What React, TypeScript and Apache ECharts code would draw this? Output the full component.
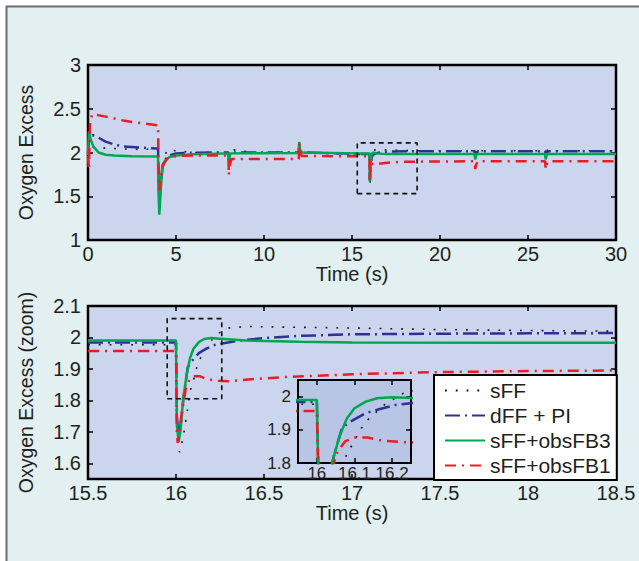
import React, { useEffect, useRef } from 'react';
import * as echarts from 'echarts';

type P = [number, number];

const NAMES = ['sFF', 'dFF + PI', 'sFF+obsFB3', 'sFF+obsFB1'];

// sFF (black dotted)
const sffEarly: P[] = [[0,1.98],[0.05,2.06],[0.3,2.06],[1,2.05],[2,2.04],[3.98,2.035],[4,1.8],[4.05,1.4],[4.15,1.62],[4.3,1.92],[4.5,2.03],[5,2.02],[6,2.0],[7.98,2.0],[8,1.9],[8.1,1.95],[8.3,2.03],[8.6,2.02],[9.5,2.0],[11.98,2.0],[12,2.1],[12.1,2.0],[15.5,1.977]];
const sffZoom: P[] = [[15.5,1.977],[16,1.977],[16.005,1.75],[16.02,1.635],[16.04,1.68],[16.06,1.75],[16.08,1.83],[16.1,1.865],[16.11,1.89],[16.13,1.925],[16.18,1.976],[16.23,2.01],[16.3,2.03],[16.4,2.035],[16.6,2.033],[17,2.03],[17.5,2.025],[18,2.022],[18.5,2.02]];
const sffLate: P[] = [[18.5,2.02],[21.98,2.02],[22,1.95],[22.1,2.03],[22.4,2.02],[25.98,2.02],[26,1.95],[26.1,2.03],[26.4,2.02],[30,2.02]];

// dFF + PI (blue dash-dot)
const dffEarly: P[] = [[0,1.98],[0.05,2.12],[0.25,2.2],[0.6,2.17],[1,2.125],[1.5,2.09],[2,2.07],[3,2.055],[3.98,2.045],[4,1.8],[4.05,1.45],[4.12,1.6],[4.25,1.86],[4.5,1.96],[5,1.99],[6,1.998],[7.98,2.0],[8,1.93],[8.05,1.97],[8.15,2.0],[11.98,2.0],[12,2.1],[12.05,2.03],[12.15,2.0],[15.5,1.984]];
const dffZoom: P[] = [[15.5,1.984],[16,1.984],[16.005,1.75],[16.015,1.68],[16.03,1.74],[16.045,1.82],[16.067,1.906],[16.09,1.925],[16.13,1.95],[16.165,1.962],[16.21,1.975],[16.25,1.98],[16.36,1.99],[16.5,1.998],[16.7,2.005],[17,2.01],[17.5,2.012],[18,2.013],[18.5,2.014]];
const dffLate: P[] = [[18.5,2.014],[21.98,2.015],[22,1.95],[22.05,1.99],[22.15,2.015],[25.98,2.015],[26,1.95],[26.05,1.99],[26.15,2.015],[30,2.015]];

// sFF+obsFB3 (green solid)
const ob3Early: P[] = [[0,1.97],[0.05,2.24],[0.15,2.15],[0.3,2.07],[0.6,2.0],[1,1.975],[1.5,1.965],[2.5,1.958],[3.98,1.953],[4,1.6],[4.05,1.29],[4.1,1.45],[4.2,1.8],[4.35,1.9],[4.6,1.945],[5,1.965],[6,1.98],[7.98,1.99],[8,1.91],[8.05,1.96],[8.1,1.99],[11.98,1.995],[12,2.12],[12.05,2.03],[12.1,2.0],[15.5,1.99]];
const ob3Zoom: P[] = [[15.5,1.99],[16,1.99],[16.005,1.72],[16.015,1.67],[16.025,1.7],[16.04,1.8],[16.06,1.88],[16.08,1.935],[16.1,1.965],[16.13,1.985],[16.16,1.995],[16.2,1.998],[16.25,1.996],[16.4,1.99],[16.7,1.986],[17,1.984],[18.5,1.983]];
const ob3Late: P[] = [[18.5,1.983],[21.98,1.984],[22,1.92],[22.05,1.96],[22.1,1.984],[25.98,1.984],[26,1.92],[26.05,1.96],[26.1,1.984],[30,1.984]];

// sFF+obsFB1 (red dash-dot)
const ob1Early: P[] = [[0,1.96],[0.05,1.8],[0.12,2.36],[0.25,2.44],[0.5,2.43],[1,2.41],[2,2.365],[3,2.335],[3.98,2.31],[4,2.0],[4.04,1.57],[4.1,1.65],[4.25,1.85],[4.5,1.93],[5,1.96],[6,1.965],[7.98,1.965],[8,1.74],[8.05,1.85],[8.15,1.925],[11.98,1.925],[12,2.11],[12.05,2.0],[12.15,1.96],[15.5,1.957]];
const ob1Zoom: P[] = [[15.5,1.957],[16,1.957],[16.005,1.7],[16.01,1.665],[16.02,1.7],[16.03,1.75],[16.045,1.8],[16.055,1.835],[16.075,1.865],[16.1,1.877],[16.135,1.877],[16.175,1.867],[16.24,1.862],[16.3,1.861],[16.45,1.868],[16.65,1.875],[17,1.883],[17.5,1.89],[18,1.893],[18.5,1.895]];
const ob1Late: P[] = [[18.5,1.895],[21.98,1.9],[22,1.81],[22.05,1.86],[22.15,1.9],[25.98,1.9],[26,1.81],[26.05,1.86],[26.15,1.9],[30,1.9]];

// axis ranges / ticks
const topX = { min: 0, max: 30, interval: 5 };
const topY = { min: 1, max: 3, interval: 0.5 };
const zoomX = { min: 15.5, max: 18.5, interval: 0.5 };
const zoomY = { min: 1.55, max: 2.1 };
const zoomYTicks = [1.6, 1.7, 1.8, 1.9, 2, 2.1];
const insetX = { min: 15.95, max: 16.25 };
const insetXTicks = [16, 16.1, 16.2];
const insetY = { min: 1.8, max: 2.05 };
const insetYTicks = [1.8, 1.9, 2];

// dashed zoom windows (data coordinates)
const boxTop = { x0: 15.3, x1: 18.7, y0: 1.53, y1: 2.11 };
const boxBottom = { x0: 15.95, x1: 16.26, y0: 1.805, y1: 2.06 };

const FONT = '"Liberation Sans", Arial, sans-serif';
const TXT = '#231f20';

const STYLES = [
  { color: '#111111', width: 1.6, type: [1.8, 9], cap: 'butt' },
  { color: '#2e3192', width: 2.5, type: [15, 5, 2, 5], cap: 'butt' },
  { color: '#00a651', width: 2.5, type: 'solid', cap: 'butt' },
  { color: '#ed1c24', width: 2.5, type: [11, 6, 2, 6], cap: 'butt' },
];

function boxPts(b: { x0: number; x1: number; y0: number; y1: number }): P[] {
  return [[b.x0, b.y0], [b.x1, b.y0], [b.x1, b.y1], [b.x0, b.y1], [b.x0, b.y0]];
}

export default function App() {
  const ref = useRef<HTMLDivElement>(null);
  useEffect(() => {
    document.body.style.margin = '0';
    const chart = echarts.init(ref.current!, null, { renderer: 'svg' });

    const tickStyle = { color: '#000', width: 1.5 };
    const lbl = (size: number, show = true, extra: any = {}) => ({
      show, fontSize: size, color: TXT, fontFamily: FONT, showMinLabel: true, showMaxLabel: true, ...extra,
    });
    const nameStyle = (size: number) => ({ fontSize: size, color: TXT, fontFamily: FONT });
    const mkX = (grid: number, r: any, pos: string, showLbl: boolean, size: number, ticks?: number[], z = 2, margin = 4) => ({
      type: 'value', gridIndex: grid, position: pos, ...r, z,
      axisLine: { show: false, onZero: false },
      axisTick: { show: true, inside: true, length: 5, lineStyle: tickStyle, ...(ticks ? { customValues: ticks } : {}) },
      axisLabel: lbl(size, showLbl, { margin, ...(ticks ? { customValues: ticks } : {}) }),
      splitLine: { show: false },
    });
    const mkY = (grid: number, r: any, pos: string, showLbl: boolean, size: number, ticks?: number[], z = 2) => ({
      type: 'value', gridIndex: grid, position: pos, ...r, z,
      axisLine: { show: false, onZero: false },
      axisTick: { show: true, inside: true, length: 5, lineStyle: tickStyle, ...(ticks ? { customValues: ticks } : {}) },
      axisLabel: lbl(size, showLbl, { margin: 7, ...(ticks ? { customValues: ticks } : {}) }),
      splitLine: { show: false },
    });

    const early = [sffEarly, dffEarly, ob3Early, ob1Early];
    const zoom = [sffZoom, dffZoom, ob3Zoom, ob1Zoom];
    const late = [sffLate, dffLate, ob3Late, ob1Late];

    const common = (i: number) => ({
      type: 'line', name: NAMES[i], symbol: 'none', silent: true,
      color: STYLES[i].color,
      itemStyle: { color: STYLES[i].color, opacity: 0 },
      lineStyle: STYLES[i],
    });

    const series: any[] = [];
    NAMES.forEach((_, i) => {
      series.push({ ...common(i), xAxisIndex: 0, yAxisIndex: 0, data: [...early[i], ...zoom[i], ...late[i]], z: 2 + i * 0.1 });
    });
    NAMES.forEach((_, i) => {
      series.push({ ...common(i), xAxisIndex: 2, yAxisIndex: 2, data: zoom[i], z: 2 + i * 0.1 });
    });
    NAMES.forEach((_, i) => {
      series.push({ ...common(i), xAxisIndex: 4, yAxisIndex: 4, data: zoom[i], z: 12 + i * 0.1 });
    });
    series.push({
      type: 'line', name: 'zoomWindowTop', xAxisIndex: 0, yAxisIndex: 0, symbol: 'none', silent: true,
      data: boxPts(boxTop), lineStyle: { color: '#111', width: 1.6, type: [5, 4] }, z: 3,
    });
    series.push({
      type: 'line', name: 'zoomWindowBottom', xAxisIndex: 2, yAxisIndex: 2, symbol: 'none', silent: true,
      data: boxPts(boxBottom), lineStyle: { color: '#111', width: 1.6, type: [5, 4] }, z: 3,
    });

    const gridBase = { show: true, borderColor: '#000', borderWidth: 2.5, containLabel: false };

    chart.setOption({
      animation: false,
      backgroundColor: '#ffffff',
      graphic: [
        {
          type: 'rect', z: -10, silent: true,
          shape: { x: 6.5, y: 6.5, width: 700, height: 600 },
          style: { fill: '#e2f0f1', stroke: '#6d6d6d', lineWidth: 2 },
        },
      ],
      grid: [
        { ...gridBase, left: 88, top: 65, width: 528, height: 175, backgroundColor: '#cbd6ee' },
        { ...gridBase, left: 88, top: 306, width: 528, height: 173, backgroundColor: '#cbd6ee' },
        { ...gridBase, left: 298, top: 380, width: 113, height: 83, backgroundColor: '#b8c5e4', borderWidth: 2, z: 10 },
      ],
      xAxis: [
        { ...mkX(0, topX, 'bottom', true, 20), name: 'Time (s)', nameLocation: 'middle', nameGap: 24, nameMoveOverlap: false, nameTextStyle: nameStyle(20) },
        mkX(0, topX, 'top', false, 20),
        { ...mkX(1, zoomX, 'bottom', true, 20), name: 'Time (s)', nameLocation: 'middle', nameGap: 24, nameMoveOverlap: false, nameTextStyle: nameStyle(20) },
        mkX(1, zoomX, 'top', false, 20),
        mkX(2, insetX, 'bottom', true, 17, insetXTicks, 12, 2),
        mkX(2, insetX, 'top', false, 17, insetXTicks, 12),
      ],
      yAxis: [
        { ...mkY(0, topY, 'left', true, 20), name: 'Oxygen Excess', nameLocation: 'middle', nameGap: 52, nameRotate: 90, nameMoveOverlap: false, nameTextStyle: nameStyle(19.5) },
        mkY(0, topY, 'right', false, 20),
        { ...mkY(1, zoomY, 'left', true, 20, zoomYTicks), name: 'Oxygen Excess (zoom)', nameLocation: 'middle', nameGap: 52, nameRotate: 90, nameMoveOverlap: false, nameTextStyle: nameStyle(19.5) },
        mkY(1, zoomY, 'right', false, 20, zoomYTicks),
        mkY(2, insetY, 'left', true, 17, insetYTicks, 12),
        mkY(2, insetY, 'right', false, 17, insetYTicks, 12),
      ],
      legend: {
        data: NAMES, orient: 'vertical', left: 434, top: 375,
        backgroundColor: '#ffffff', borderColor: '#000', borderWidth: 2, borderRadius: 0,
        padding: [5, 6, 4, 10], itemWidth: 40, itemHeight: 14, itemGap: 4,
        itemStyle: { opacity: 0 },
        textStyle: { fontSize: 21, color: TXT, fontFamily: FONT, lineHeight: 20 },
        selectedMode: false, z: 20,
      },
      series,
    });
    return () => chart.dispose();
  }, []);
  return <div ref={ref} style={{ width: 639, height: 561 }} />;
}
